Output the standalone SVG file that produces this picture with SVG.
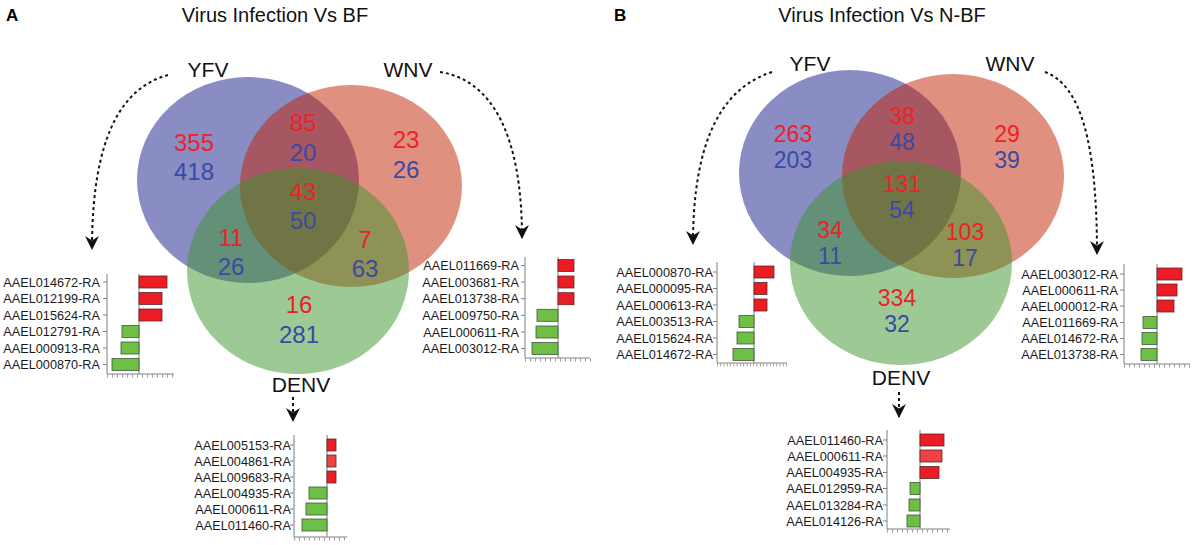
<svg xmlns="http://www.w3.org/2000/svg" width="1192" height="545" viewBox="0 0 1192 545">
<style>
text{font-family:"Liberation Sans",Arial,sans-serif}
.ttl{font-size:20px;fill:#111;text-anchor:middle}
.pl{font-size:17px;font-weight:bold;fill:#000}
.num{font-size:24px;text-anchor:middle}
.nb{font-size:23px}
.r{fill:#ec2227}
.b{fill:#3a4aa3}
.lab{font-size:21px;text-anchor:middle;fill:#111}
.gl{font-size:12.7px;text-anchor:end;fill:#1a1a1a}
.rb{fill:#ec1c24;stroke:#5a2a2a;stroke-width:0.8}
.gb{fill:#6dbf45;stroke:#44583a;stroke-width:0.8}
.ax{stroke:#808080;stroke-width:1;fill:none}
.tk{stroke:#808080;stroke-width:3;stroke-dasharray:0.8 4.2;fill:none}
.arr{fill:none;stroke:#111;stroke-width:2;stroke-dasharray:3 3}
.cb{fill:#151989;fill-opacity:0.5}
.co{fill:#c12100;fill-opacity:0.5}
.cg{fill:#3b9329;fill-opacity:0.5}
</style>
<defs>
<marker id="ah" markerUnits="userSpaceOnUse" viewBox="0 0 14 14" markerWidth="14" markerHeight="14" refX="13" refY="7" orient="auto">
<path d="M0,0 L14,7 L0,14 L4.5,7 z" fill="#111"/>
</marker>
</defs>
<rect width="1192" height="545" fill="#fff"/>

<g id="titles">
<text class="pl" x="6" y="21">A</text>
<text class="ttl" x="275" y="22">Virus Infection Vs BF</text>
<text class="pl" x="614" y="21">B</text>
<text class="ttl" x="882" y="22">Virus Infection Vs N-BF</text>
</g>

<g id="venn-A">
<g id="yfv-a"><ellipse class="cb" cx="248" cy="180" rx="111" ry="103"/><text class="lab" x="208" y="77">YFV</text></g>
<g id="wnv-a"><ellipse class="co" cx="351" cy="186" rx="111" ry="101"/><text class="lab" x="408" y="77">WNV</text></g>
<g id="denv-a"><ellipse class="cg" cx="298" cy="271" rx="111" ry="103"/><text class="lab" x="301" y="392">DENV</text></g>
<g id="counts-a">
<text class="num r" x="194" y="151">355</text><text class="num b" x="194" y="180">418</text>
<text class="num r" x="303" y="131">85</text><text class="num b" x="303" y="161">20</text>
<text class="num r" x="406" y="148">23</text><text class="num b" x="406" y="178">26</text>
<text class="num r" x="303" y="200">43</text><text class="num b" x="303" y="229">50</text>
<text class="num r" x="231" y="246">11</text><text class="num b" x="231" y="275">26</text>
<text class="num r" x="365" y="248">7</text><text class="num b" x="365" y="277">63</text>
<text class="num r" x="299" y="313">16</text><text class="num b" x="299" y="343">281</text>
</g>
</g>

<g id="venn-B">
<g id="yfv-b"><ellipse class="cb" cx="850" cy="173" rx="111" ry="103"/><text class="lab" x="810" y="71">YFV</text></g>
<g id="wnv-b"><ellipse class="co" cx="953" cy="176" rx="111" ry="102"/><text class="lab" x="1010" y="71">WNV</text></g>
<g id="denv-b"><ellipse class="cg" cx="901" cy="263" rx="111" ry="102"/><text class="lab" x="901" y="385">DENV</text></g>
<g id="counts-b">
<text class="num nb r" x="793" y="142">263</text><text class="num nb b" x="793" y="168">203</text>
<text class="num nb r" x="902" y="124">38</text><text class="num nb b" x="902" y="150">48</text>
<text class="num nb r" x="1007" y="142">29</text><text class="num nb b" x="1007" y="168">39</text>
<text class="num nb r" x="902" y="192">131</text><text class="num nb b" x="902" y="218">54</text>
<text class="num nb r" x="830" y="238">34</text><text class="num nb b" x="830" y="264">11</text>
<text class="num nb r" x="965" y="240">103</text><text class="num nb b" x="965" y="266">17</text>
<text class="num nb r" x="897" y="306">334</text><text class="num nb b" x="897" y="332">32</text>
</g>
</g>

<g id="connectors">
<path class="arr" d="M168,75 C120,88 92,140 92,249" marker-end="url(#ah)"/>
<path class="arr" d="M440,72 C492,80 522,135 522,238" marker-end="url(#ah)"/>
<path class="arr" d="M293,397 L293,421" marker-end="url(#ah)"/>
<path class="arr" d="M772,72 C722,88 693,140 693,244" marker-end="url(#ah)"/>
<path class="arr" d="M1045,72 C1080,85 1097,140 1097,254" marker-end="url(#ah)"/>
<path class="arr" d="M899,392 L899,417" marker-end="url(#ah)"/>
</g>

<g id="chart-a-yfv">
<path class="ax" d="M107,274 V374 H174 M139,274 V374 M103,282 H107 M103,298.5 H107 M103,315 H107 M103,331.5 H107 M103,348 H107 M103,364.5 H107"/>
<path class="tk" d="M107,376 H175"/>
<rect class="rb" x="139" y="276" width="28" height="12"/>
<rect class="rb" x="139" y="292.5" width="23" height="12"/>
<rect class="rb" x="139" y="309" width="23" height="12"/>
<rect class="gb" x="122" y="325.5" width="17" height="12"/>
<rect class="gb" x="121" y="342" width="18" height="12"/>
<rect class="gb" x="112" y="358.5" width="27" height="12"/>
<text class="gl" x="100" y="286.5">AAEL014672-RA</text>
<text class="gl" x="100" y="303">AAEL012199-RA</text>
<text class="gl" x="100" y="319.5">AAEL015624-RA</text>
<text class="gl" x="100" y="336">AAEL012791-RA</text>
<text class="gl" x="100" y="352.5">AAEL000913-RA</text>
<text class="gl" x="100" y="369">AAEL000870-RA</text>
</g>

<g id="chart-a-wnv">
<path class="ax" d="M525,257 V358 H590 M558,257 V358 M521,265.5 H525 M521,282 H525 M521,298.7 H525 M521,315.3 H525 M521,332 H525 M521,348.5 H525"/>
<path class="tk" d="M525,360 H591"/>
<rect class="rb" x="558" y="259.5" width="16" height="12"/>
<rect class="rb" x="558" y="276" width="16" height="12"/>
<rect class="rb" x="558" y="292.7" width="16" height="12"/>
<rect class="gb" x="537" y="309.3" width="21" height="12"/>
<rect class="gb" x="536" y="326" width="22" height="12"/>
<rect class="gb" x="532" y="342.5" width="26" height="12"/>
<text class="gl" x="519" y="270">AAEL011669-RA</text>
<text class="gl" x="519" y="286.5">AAEL003681-RA</text>
<text class="gl" x="519" y="303.2">AAEL013738-RA</text>
<text class="gl" x="519" y="319.8">AAEL009750-RA</text>
<text class="gl" x="519" y="336.5">AAEL000611-RA</text>
<text class="gl" x="519" y="353">AAEL003012-RA</text>
</g>

<g id="chart-a-denv">
<path class="ax" d="M294,435 V537 H347 M327,435 V537 M290,445 H294 M290,461 H294 M290,477 H294 M290,493 H294 M290,509 H294 M290,525 H294"/>
<path class="tk" d="M294,539 H348"/>
<rect class="rb" x="327" y="439" width="9" height="12"/>
<rect class="rb" x="327" y="455" width="9" height="12" style="fill:#ef4242"/>
<rect class="rb" x="327" y="471" width="9" height="12"/>
<rect class="gb" x="309" y="487" width="18" height="12"/>
<rect class="gb" x="306" y="503" width="21" height="12"/>
<rect class="gb" x="302" y="519" width="25" height="12"/>
<text class="gl" x="291" y="449.5">AAEL005153-RA</text>
<text class="gl" x="291" y="465.5">AAEL004861-RA</text>
<text class="gl" x="291" y="481.5">AAEL009683-RA</text>
<text class="gl" x="291" y="497.5">AAEL004935-RA</text>
<text class="gl" x="291" y="513.5">AAEL000611-RA</text>
<text class="gl" x="291" y="529.5">AAEL011460-RA</text>
</g>

<g id="chart-b-yfv">
<path class="ax" d="M717,262 V363 H787 M754,262 V363 M713,272 H717 M713,288.5 H717 M713,305 H717 M713,321.5 H717 M713,338 H717 M713,354.5 H717"/>
<path class="tk" d="M717,365 H788" style="stroke-dasharray:0.7 2.6"/>
<rect class="rb" x="754" y="266" width="20" height="12"/>
<rect class="rb" x="754" y="282.5" width="13" height="12"/>
<rect class="rb" x="754" y="299" width="13" height="12"/>
<rect class="gb" x="739" y="315.5" width="15" height="12"/>
<rect class="gb" x="737" y="332" width="17" height="12"/>
<rect class="gb" x="733" y="348.5" width="21" height="12"/>
<text class="gl" x="713" y="276.5">AAEL000870-RA</text>
<text class="gl" x="713" y="293">AAEL000095-RA</text>
<text class="gl" x="713" y="309.5">AAEL000613-RA</text>
<text class="gl" x="713" y="326">AAEL003513-RA</text>
<text class="gl" x="713" y="342.5">AAEL015624-RA</text>
<text class="gl" x="713" y="359">AAEL014672-RA</text>
</g>

<g id="chart-b-wnv">
<path class="ax" d="M1124,264 V364 H1190 M1157,264 V364 M1120,274 H1124 M1120,290 H1124 M1120,306 H1124 M1120,322.5 H1124 M1120,338.5 H1124 M1120,354.5 H1124"/>
<path class="tk" d="M1124,366 H1190"/>
<rect class="rb" x="1157" y="268" width="25" height="12"/>
<rect class="rb" x="1157" y="284" width="20" height="12"/>
<rect class="rb" x="1157" y="300" width="17" height="12"/>
<rect class="gb" x="1143" y="316.5" width="14" height="12"/>
<rect class="gb" x="1142" y="332.5" width="15" height="12"/>
<rect class="gb" x="1141" y="348.5" width="16" height="12"/>
<text class="gl" x="1118" y="278.5">AAEL003012-RA</text>
<text class="gl" x="1118" y="294.5">AAEL000611-RA</text>
<text class="gl" x="1118" y="310.5">AAEL000012-RA</text>
<text class="gl" x="1118" y="327">AAEL011669-RA</text>
<text class="gl" x="1118" y="343">AAEL014672-RA</text>
<text class="gl" x="1118" y="359">AAEL013738-RA</text>
</g>

<g id="chart-b-denv">
<path class="ax" d="M887,430 V529 H950 M920,430 V529 M883,440 H887 M883,456 H887 M883,472.5 H887 M883,488.5 H887 M883,505 H887 M883,521 H887"/>
<path class="tk" d="M887,531 H951"/>
<rect class="rb" x="920" y="434" width="24" height="12"/>
<rect class="rb" x="920" y="450" width="22" height="12" style="fill:#ef4242"/>
<rect class="rb" x="920" y="466.5" width="19" height="12"/>
<rect class="gb" x="910" y="482.5" width="10" height="12"/>
<rect class="gb" x="909" y="499" width="11" height="12"/>
<rect class="gb" x="907" y="515" width="13" height="12"/>
<text class="gl" x="883" y="444.5">AAEL011460-RA</text>
<text class="gl" x="883" y="460.5">AAEL000611-RA</text>
<text class="gl" x="883" y="477">AAEL004935-RA</text>
<text class="gl" x="883" y="493">AAEL012959-RA</text>
<text class="gl" x="883" y="509.5">AAEL013284-RA</text>
<text class="gl" x="883" y="525.5">AAEL014126-RA</text>
</g>
</svg>
